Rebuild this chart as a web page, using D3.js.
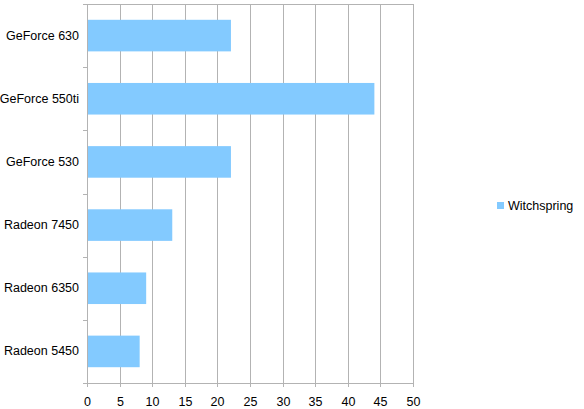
<!DOCTYPE html>
<html><head><meta charset="utf-8">
<script src="https://cdn.jsdelivr.net/npm/d3@7"></script>
<style>body{margin:0;background:#fff}svg{display:block}text{font-family:"Liberation Sans",Arial,sans-serif}</style>
</head><body>
<svg id="c" width="584" height="409"></svg>
<script>
const categories = ["GeForce 630","GeForce 550ti","GeForce 530","Radeon 7450","Radeon 6350","Radeon 5450"];
const seriesName = "Witchspring";
const values = [22, 44, 22, 13, 9, 8];
const xTicks = [0,5,10,15,20,25,30,35,40,45,50];

const svg = d3.select("#c");
const L = 87, R = 413, T = 4, B = 383;
const x = d3.scaleLinear().domain([0,50]).range([L,R]);
const y = d3.scaleBand().domain(categories).range([T,B]).paddingInner(0.5).paddingOuter(0.25);
const yb = d3.scaleBand().domain(categories).range([T,B]);
const px = d => Math.round(x(d)) + 0.5;

// gridlines
svg.append("g").selectAll("line").data(xTicks).join("line")
  .attr("x1", px).attr("x2", px).attr("y1", T).attr("y2", B+4)
  .attr("stroke", "#b3b3b3").attr("stroke-width", 1);
// top border
svg.append("line").attr("x1", L).attr("x2", R+1).attr("y1", T+0.5).attr("y2", T+0.5).attr("stroke","#b3b3b3");

// bars
svg.append("g").selectAll("rect").data(values).join("rect")
  .attr("x", x(0)+0.5).attr("y", (d,i)=>y(categories[i]))
  .attr("width", d=>x(d)-x(0)).attr("height", y.bandwidth())
  .attr("fill", "#83caff");

// y axis line + ticks
svg.append("line").attr("x1", px(0)).attr("x2", px(0)).attr("y1", T).attr("y2", B).attr("stroke","#b3b3b3");
const yTickPos = categories.map(c=>yb(c)).concat([B]);
svg.append("g").selectAll("line").data(yTickPos).join("line")
  .attr("x1", L-4).attr("x2", L).attr("y1", d=>Math.round(d)+0.5).attr("y2", d=>Math.round(d)+0.5)
  .attr("stroke","#b3b3b3");
svg.append("g").selectAll("text").data(categories).join("text")
  .attr("x", 79).attr("y", d=>yb(d)+yb.bandwidth()/2+4)
  .attr("text-anchor","end").attr("font-size",12.5).attr("fill","#000").text(d=>d);

// x axis
svg.append("line").attr("x1", L-4).attr("x2", R+1).attr("y1", B+0.5).attr("y2", B+0.5).attr("stroke","#b3b3b3");
svg.append("g").selectAll("text").data(xTicks).join("text")
  .attr("x", px).attr("y", B+23)
  .attr("text-anchor","middle").attr("font-size",12.5).attr("fill","#000").text(d=>d);

// legend
svg.append("rect").attr("x",497).attr("y",202).attr("width",7).attr("height",7).attr("fill","#83caff");
svg.append("text").attr("x",508).attr("y",210).attr("font-size",12.5).attr("fill","#000").text(seriesName);
</script>
</body></html>
